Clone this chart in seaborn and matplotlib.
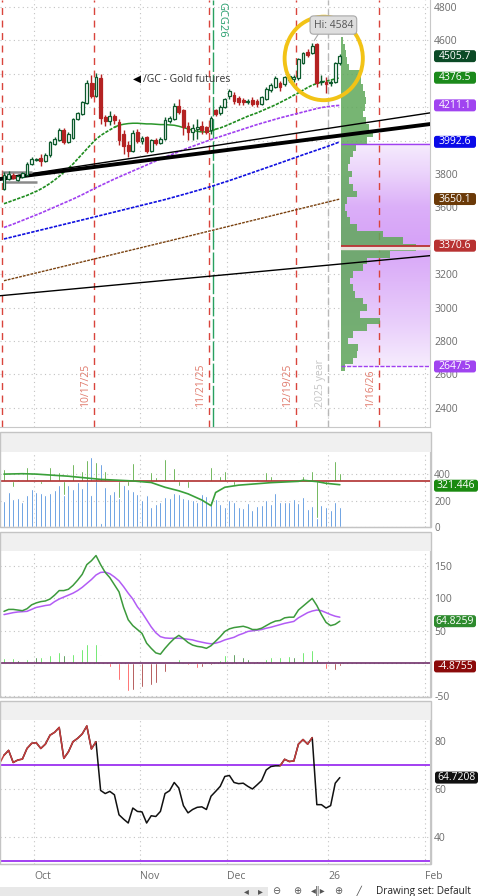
import numpy as np
import seaborn as sns
import matplotlib.pyplot as plt
from matplotlib.patches import Rectangle, Ellipse, FancyBboxPatch
from matplotlib.transforms import IdentityTransform

sns.set_style("white")
plt.rcParams['font.family'] = ['Open Sans', 'DejaVu Sans']

# ---------------- data (daily bars 9/22/25 .. 1/6/26) ----------------
opens = [3712, 3772, 3796, 3766, 3782, 3792, 3862, 3886, 3896, 3878,
         3912, 3982, 4006, 4066, 3992, 4018, 4132, 4162, 4226, 4346,
         4268, 4372, 4142, 4118, 4146, 4112, 4038, 3972, 3938, 4052,
         3998, 4022, 3938, 4002, 3986, 4012, 4118, 4132, 4206, 4182,
         4086, 4052, 4068, 4086, 4082, 4062, 4182, 4166, 4200, 4270,
         4272, 4256, 4246, 4232, 4246, 4240, 4222, 4252, 4302, 4322,
         4342, 4336, 4362, 4366, 4372, 4466, 4528, 4522, 4578, 4348,
         4352, 4345, 4352, 4462]
highs = [3812, 3818, 3806, 3796, 3814, 3870, 3900, 3898, 3922, 3924,
         3998, 4024, 4074, 4076, 4052, 4138, 4174, 4240, 4362, 4392,
         4402, 4398, 4156, 4178, 4160, 4128, 4062, 3998, 4062, 4068,
         4030, 4030, 4012, 4016, 4024, 4140, 4150, 4226, 4252, 4190,
         4112, 4102, 4132, 4116, 4090, 4146, 4190, 4212, 4258, 4312,
         4290, 4268, 4258, 4252, 4262, 4252, 4270, 4322, 4346, 4388,
         4356, 4386, 4398, 4392, 4492, 4532, 4546, 4584, 4582, 4392,
         4382, 4362, 4470, 4516]
lows = [3702, 3762, 3770, 3758, 3776, 3786, 3852, 3878, 3846, 3870,
        3904, 3976, 3998, 3982, 3984, 4010, 4124, 4154, 4218, 4258,
        4262, 4102, 4090, 4092, 4100, 3972, 3922, 3902, 3932, 3986,
        3980, 3924, 3930, 3972, 3978, 4004, 4106, 4122, 4160, 4032,
        4002, 4002, 4012, 4042, 4040, 4042, 4150, 4156, 4196, 4252,
        4222, 4216, 4212, 4220, 4208, 4200, 4214, 4244, 4292, 4316,
        4300, 4326, 4350, 4352, 4362, 4458, 4502, 4516, 4322, 4334,
        4286, 4330, 4342, 4452]
closes = [3792, 3802, 3778, 3786, 3806, 3862, 3888, 3890, 3878, 3916,
          3992, 4012, 4062, 3992, 4038, 4132, 4166, 4232, 4346, 4268,
          4378, 4138, 4118, 4146, 4122, 4002, 3966, 3938, 4046, 3998,
          4018, 3938, 4002, 3986, 4012, 4126, 4138, 4206, 4172, 4082,
          4052, 4078, 4080, 4062, 4052, 4138, 4162, 4202, 4250, 4296,
          4236, 4232, 4232, 4240, 4222, 4222, 4262, 4312, 4332, 4372,
          4322, 4378, 4386, 4378, 4486, 4522, 4512, 4566, 4346, 4352,
          4340, 4352, 4462, 4506]

ma_green = [3622, 3632, 3642, 3652, 3662, 3672, 3684, 3696, 3710, 3726,
            3744, 3764, 3786, 3810, 3834, 3860, 3890, 3920, 3950, 3980,
            4008, 4030, 4048, 4064, 4080, 4092, 4098, 4102, 4104, 4104,
            4102, 4100, 4100, 4098, 4096, 4096, 4094, 4092, 4086, 4078,
            4070, 4062, 4056, 4052, 4052, 4058, 4068, 4076, 4086, 4098,
            4110, 4122, 4134, 4146, 4156, 4166, 4178, 4190, 4202, 4214,
            4228, 4242, 4256, 4272, 4286, 4302, 4318, 4332, 4342, 4350,
            4356, 4362, 4370, 4376.5]
ma_purple = [3480, 3490, 3500, 3511, 3522, 3533, 3544, 3555, 3566, 3578,
             3590, 3602, 3614, 3626, 3638, 3650, 3663, 3676, 3690, 3704,
             3718, 3731, 3744, 3757, 3770, 3782, 3794, 3806, 3818, 3830,
             3842, 3854, 3866, 3878, 3890, 3901, 3912, 3923, 3934, 3945,
             3956, 3966, 3976, 3986, 3996, 4006, 4015, 4024, 4033, 4042,
             4051, 4060, 4069, 4078, 4087, 4096, 4104, 4112, 4120, 4128,
             4136, 4143, 4150, 4157, 4164, 4171, 4178, 4185, 4192, 4198,
             4202, 4206, 4209, 4211.1]
ma_blue_idx = [0, 10, 20, 30, 35, 40, 45, 50, 55, 60, 65, 70, 73]
ma_blue_val = [3411, 3478, 3545, 3613, 3647, 3685, 3725, 3770, 3818, 3866, 3915, 3962, 3992.6]
ma_brown_idx = [0, 36, 73]
ma_brown_val = [3161, 3400, 3650.1]

# hand-drawn trendlines (price at left / right edge of chart)
trend_thick = [3770, 4099]
trend_thin = [3774, 4166]
trend_low = [3071, 3311]

# volume profile (price bins, relative volume)
prof_levels = np.arange(4600, 2600, -40)
prof_vol = [2, 4, 5, 6, 8, 19, 20, 22, 24, 25,
            24, 22, 25, 28, 32, 26, 15, 12, 9, 7,
            11, 8, 12, 16, 6, 4, 6, 9, 16, 42,
            62, 75, 49, 26, 22, 12, 9, 12, 14, 22,
            26, 19, 39, 26, 12, 7, 17, 16, 12, 4]
va_high, va_low, poc = 3980, 2647.5, 3370.6

volume = [200, 266, 215, 224, 192, 242, 289, 266, 259, 242,
          261, 279, 316, 345, 316, 286, 340, 296, 353, 533,
          390, 476, 303, 254, 271, 328, 328, 286, 271, 254,
          205, 246, 155, 172, 187, 229, 222, 261, 249, 217,
          210, 205, 192, 249, 237, 197, 210, 175, 155, 205,
          192, 155, 143, 180, 131, 160, 168, 205, 175, 261,
          192, 192, 192, 210, 180, 229, 138, 163, 197, 168,
          150, 131, 192, 155]
vol_osc = [94, 5, -42, 20, 15, 111, 32, 5, -22, 32,
           111, 44, 69, -100, 62, 131, 44, 81, 163, -104,
           148, -313, 81, 5, -17, -128, -30, -35, 138, -10,
           0, -104, 69, 32, 44, 168, 32, 100, -35, -116,
           -54, 32, 0, 0, -17, 106, 44, 44, 81, 12,
           -30, 0, 0, -8, -6, 20, 32, 69, 37, 0,
           0, 52, 0, 5, 148, 44, 8, 77, -277, 0,
           -25, 5, 156, 62]
vol_ref = 347
vol_ma_idx = [0, 4, 7, 14, 21, 28, 32, 35, 38, 40, 43, 45, 46, 48, 51, 58, 64, 65, 68, 70, 73]
vol_ma_val = [402, 405, 402, 386, 362, 350, 338, 302, 275, 252, 205, 162, 262, 302, 318, 337, 347, 355, 345, 332, 321.446]

macd = [80, 83, 83, 82, 81, 84, 90, 93, 95, 96,
        99, 105, 112, 112, 114, 120, 128, 137, 152, 158,
        166, 152, 140, 132, 121, 110, 86, 67, 58, 52,
        46, 31, 23, 16, 14, 23, 31, 38, 43, 38,
        32, 28, 26, 25, 23, 27, 34, 41, 49, 53,
        55, 56, 57, 55, 52, 52, 54, 58, 62, 65,
        66, 70, 71, 71, 82, 88, 94, 100, 89, 75,
        63, 58, 60, 64.8259]
macd_avg = [75, 76.5, 78, 79, 79.5, 80, 83, 86, 87.5, 89,
            90, 95, 99, 102, 105, 108, 112, 117, 123, 129,
            136, 140, 140.5, 138, 133, 127, 118, 108, 99, 87,
            78, 67, 56, 47, 41, 39, 38.5, 38.5, 38.5, 38,
            37, 36, 34, 32.5, 31, 30, 31, 33, 36, 38,
            40, 43.5, 46, 49, 50, 51, 52, 54, 55.5, 57.5,
            59.5, 61.5, 63, 64.5, 70, 74, 78, 80.5, 82, 81,
            78, 75, 72.5, 71]
macd_diff = [8, 6, 8, 5, 4, 7, 10, 9, 9, 8,
             12, 14, 17, 13, 11, 15, 18, 22, 30, 27,
             30, 13, -1, -6, -14, -26, -36, -43, -41, -40,
             -36, -34, -33, -30, -25, -14, -6, 2, 7, 1,
             -3, -5, -7, -5, -8, -2, 2, 5, 12, 16,
             15, 13, 10, 6, 4, 3, 4, 7, 9, 10,
             10, 10, 11, 10, 13, 17, 18, 20, 7, -1,
             -9, -13, -10, -4.8755]

rsi = [74, 76, 71, 72, 72.4, 76.8, 78.9, 79.2, 76.8, 78.6,
       82.3, 83.5, 85.5, 72.7, 75.4, 79.6, 81, 82.8, 86.1, 76.6,
       79.6, 59.4, 58.1, 59, 57.6, 49.3, 47.5, 45.9, 52.1, 50.7,
       50.5, 45.9, 48.9, 48.6, 50.7, 58.1, 59.3, 62.7, 60.4, 53.1,
       50.1, 51.5, 52.4, 52.6, 51.5, 57, 59, 61.1, 65.2, 65.6,
       62.7, 62.2, 62.4, 61.1, 60, 61.7, 63.5, 67.9, 69.3, 69.6,
       69.6, 72.3, 71.4, 71.6, 78.6, 80.5, 78.6, 81.3, 53.5, 53.5,
       52.1, 53.1, 62.4, 64.7208]

month_pos = [6.5, 29.5, 48.5, 70.5, 91.5]
month_lbl = ['Oct', 'Nov', 'Dec', '26', 'Feb']
expiry_pos = [-0.5, 19.5, 44.5, 63.5, 81.5]
expiry_lbl = ['', '10/17/25', '11/21/25', '12/19/25', '1/16/26']
roll_pos = 45.5
year_pos = 70.5

# ---------------- layout ----------------
W, H = 479, 896
XL, XR = -0.87, 92.6
PROF_LEFT = 73.3
fig = plt.figure(figsize=(W / 100, H / 100), dpi=100)
fig.patch.set_facecolor('white')


def fbox(x0, y0, x1, y1):
    return [x0 / W, 1 - y1 / H, (x1 - x0) / W, (y1 - y0) / H]


def prect(x0, y0, x1, y1, **kw):
    fig.add_artist(Rectangle((x0, H - y1), x1 - x0, y1 - y0,
                             transform=IdentityTransform(), **kw))


ax_p = fig.add_axes(fbox(0, 0, 430, 427))
ax_v = fig.add_axes(fbox(0, 452, 430, 527))
ax_m = fig.add_axes(fbox(0, 551, 430, 697))
ax_r = fig.add_axes(fbox(0, 720, 430, 864))

idx = np.arange(len(closes))
grid_col = '#c2c2c2'


def style(ax, yticks, ylim, hidden=()):
    ax.set_xlim(XL, XR)
    ax.set_ylim(*ylim)
    ax.yaxis.tick_right()
    ax.set_yticks(yticks)
    # labels sitting under a value tag are not shown
    ax.set_yticklabels(['' if t in hidden else f'{t:g}' for t in yticks])
    ax.set_xticks(month_pos)
    ax.tick_params(axis='y', length=0, pad=3, labelsize=7.5, labelcolor='#6b6b6b')
    ax.tick_params(axis='x', length=0, labelbottom=False)
    ax.grid(True, ls=(0, (1, 3)), color=grid_col, lw=0.8)
    for s in ['left', 'top']:
        ax.spines[s].set_visible(False)
    for s in ['right', 'bottom']:
        ax.spines[s].set_color('#c8c8c8')
    ax.set_xlabel('')
    ax.set_ylabel('')


# ---------------- price panel ----------------
o, h, l, c = map(np.array, (opens, highs, lows, closes))
up = c >= o
edge = np.where(up, '#0c5a2c', '#b42222')
face = np.where(up, 'white', '#b42222')
body_lo = np.minimum(o, c)
body_h = np.maximum(np.abs(c - o), 6)

# value area gradient + profile
va_p = np.linspace(va_low, va_high, 200)
strength = np.interp(va_p, [2647, 2900, 3200, 3400, 3600, 3800, 3980],
                     [0.08, 0.45, 0.8, 1.0, 0.85, 0.4, 0.08])
light = np.array([0.975, 0.95, 0.995])
deep = np.array([0.84, 0.64, 0.97])
img = light + (deep - light) * strength[:, None]
ax_p.imshow(img[:, None, :], extent=[PROF_LEFT, XR, va_low, va_high], origin='lower',
            aspect='auto', zorder=1)
ax_p.barh(prof_levels, np.array(prof_vol) / 4.6, left=PROF_LEFT, height=40,
          color='#5fa85a', alpha=0.85, lw=0, antialiased=False, zorder=3)
ax_p.fill_between([PROF_LEFT, XR], poc - 20, poc - 2, color='#ece2de', zorder=3.5)
ax_p.hlines(poc, PROF_LEFT, XR, color='#b83232', lw=1.3, zorder=4)
ax_p.hlines(va_high, PROF_LEFT, XR, color='#a040f0', lw=1, zorder=4)
ax_p.hlines(va_low, PROF_LEFT, XR, color='#a040f0', lw=1, ls=(0, (3, 1)), zorder=4)

# event lines
for xp in expiry_pos:
    ax_p.axvline(xp, color='#d9443c', ls=(0, (5, 4)), lw=1, zorder=2)
ax_p.axvline(roll_pos, color='#28a060', ls=(0, (14, 2)), lw=1, zorder=2)
ax_p.axvline(year_pos, color='#b8b8b8', ls=(0, (5, 3)), lw=1, zorder=2)
for xp, lb in zip(expiry_pos, expiry_lbl):
    if lb:
        ax_p.text(xp - 1.8, 2405, lb, rotation=90, ha='center', va='bottom',
                  fontsize=7.5, color='#e07a6c')
ax_p.text(year_pos - 1.6, 2405, '2025 year', rotation=90, ha='center', va='bottom',
          fontsize=7.5, color='#c4c4c4')
ax_p.text(roll_pos + 1.8, 4830, 'GCG26', rotation=270, ha='center', va='top',
          fontsize=8, color='#2aa070')

# moving averages
dash = (0, (2, 0.8))
g = np.array(ma_green)
sns.lineplot(x=idx[:26], y=g[:26], ax=ax_p, color='#1e8c1e', lw=1.2, ls=dash, zorder=3)
sns.lineplot(x=idx[24:47], y=g[24:47], ax=ax_p, color='#2a962a', lw=1.1, zorder=3)
sns.lineplot(x=idx[45:], y=g[45:], ax=ax_p, color='#1e8c1e', lw=1.2, ls=dash, zorder=3)
sns.lineplot(x=idx, y=ma_purple, ax=ax_p, color='#a040f0', lw=1.2, ls=dash, zorder=3)
sns.lineplot(x=ma_blue_idx, y=ma_blue_val, ax=ax_p, color='#1010e0', lw=1.2, ls=dash, zorder=3)
sns.lineplot(x=ma_brown_idx, y=ma_brown_val, ax=ax_p, color='#7a4210', lw=1, ls=dash, zorder=3)

# trendlines
ax_p.plot([XL, XR], trend_low, color='black', lw=1, zorder=3)
ax_p.plot([XL, XR], trend_thin, color='black', lw=1, zorder=3)
ax_p.plot([XL, XR], trend_thick, color='black', lw=2.8, zorder=3)
ax_p.hlines(3812, -0.4, 6, color='#8a8a8a', lw=1.8, zorder=3)
ax_p.hlines(3752, 0.2, 7.2, color='#8a8a8a', lw=1.8, zorder=3)

# candles
ax_p.vlines(idx, l, h, colors=edge, lw=1, zorder=5)
ax_p.bar(idx, body_h, bottom=body_lo, width=0.62, color=face, edgecolor=edge,
         lw=0.9, zorder=6)

ax_p.text(30.2, 4368, '/GC - Gold futures', fontsize=7.5, color='#333333', va='center')
ax_p.text(28.0, 4368, '\u25C0', fontsize=7.5, color='black', va='center',
          family='DejaVu Sans')
ax_p.add_patch(Ellipse((69.5, 4492), 17, 500, fill=False, ec='#f2c316', lw=2.8, zorder=8))
ax_p.plot([68.6, 67.4], [4650, 4598], color='#a8a8a8', lw=0.8, zorder=9)
ax_p.text(71.6, 4692, 'Hi: 4584', ha='center', va='center', fontsize=7.5, color='#555555',
          zorder=10, bbox=dict(boxstyle='round,pad=0.35', fc='#dedede', ec='#a8a8a8', lw=0.8))

style(ax_p, list(range(2400, 4801, 200)), (2285, 4842), hidden=(4400, 4200, 4000, 3400))

# ---------------- volume panel ----------------
ax_v.bar(idx, volume, width=0.42, color='#1a6dd2', zorder=2)
ax_v.bar(idx, vol_osc, bottom=vol_ref, width=0.35, color='#1f8f00', zorder=3)
ax_v.axhline(vol_ref, color='#b03030', lw=1.2, zorder=4)
sns.lineplot(x=vol_ma_idx, y=vol_ma_val, ax=ax_v, color='#3aa03a', lw=1.2, zorder=5)
style(ax_v, [0, 200, 400], (0, 570))
ax_v.tick_params(axis='y', labelsize=7)

# ---------------- MACD panel ----------------
d = np.array(macd_diff)
prev = np.concatenate([[d[0]], d[:-1]])
hcol = np.where(d >= 0, np.where(d >= prev, '#22dd22', '#0a6a0a'),
                np.where(d <= prev, '#ff2020', '#8b0000'))
ax_m.bar(idx, d, width=0.35, color=hcol, zorder=2)
ax_m.axhline(0, color='#70306a', lw=1.2, zorder=3)
sns.lineplot(x=idx, y=macd_avg, ax=ax_m, color='#b25cf5', lw=1.1, zorder=4)
sns.lineplot(x=idx, y=macd, ax=ax_m, color='#3c9a3c', lw=1.1, zorder=5)
style(ax_m, [-50, 0, 50, 100, 150], (-52, 173), hidden=(0,))

# ---------------- RSI panel ----------------
r = np.array(rsi)
ax_r.axhline(70, color='#9b30f0', lw=1.3, zorder=2)
ax_r.axhline(30, color='#9b30f0', lw=1.3, zorder=2)
sns.lineplot(x=idx, y=r, ax=ax_r, color='#111111', lw=1.1, zorder=3)
ax_r.plot([XL, 0], [70.9, r[0]], color='#c43c3c', lw=1.1, zorder=4)
for i in range(1, len(r)):
    if r[i] > 70:
        ax_r.plot(idx[i - 1:i + 1], r[i - 1:i + 1], color='#c43c3c', lw=1.1, zorder=4)
style(ax_r, [40, 60, 80], (28.9, 88.6))
ax_r.tick_params(axis='x', labelbottom=True, pad=5, labelsize=7.5, labelcolor='#6b6b6b')
ax_r.set_xticklabels(month_lbl, ha='left')

# ---------------- chrome: headers, tags, toolbar ----------------
for top, hb, bottom in [(432, 452, 527), (532, 551, 697), (701, 720, 864)]:
    prect(0, top, 431, hb, facecolor='#f0f0f0', edgecolor='none')
    prect(0, top, 431, bottom, facecolor='none', edgecolor='#c4c4c4', lw=1)


def tag(ax, value, label, color, x0=434, w=42, hgt=12, dy=0):
    yd = ax.transData.transform((0, value))[1] - dy
    fig.add_artist(FancyBboxPatch((x0, yd - hgt / 2), w, hgt,
                                  boxstyle='round,pad=0,rounding_size=2.5',
                                  transform=IdentityTransform(), facecolor=color,
                                  edgecolor='none'))
    fig.text((x0 + w / 2) / W, yd / H, label, color='white', fontsize=7.5,
             ha='center', va='center')


for v, lb, col in [(4505.7, '4505.7', '#0b4a26'), (4376.5, '4376.5', '#1b8a1b'),
                   (4211.1, '4211.1', '#a044f0'), (3992.6, '3992.6', '#0a0ae8'),
                   (3650.1, '3650.1', '#6b3a08'), (3370.6, '3370.6', '#b83232'),
                   (2647.5, '2647.5', '#a044f0')]:
    tag(ax_p, v, lb, col)
tag(ax_v, 321.446, '321.446', '#1a8a10', x0=434, w=44, dy=1)
tag(ax_m, 64.8259, '64.8259', '#2e8b2e', x0=434, w=42)
tag(ax_m, -4.8755, '-4.8755', '#8b0a0a', x0=434, w=42)
tag(ax_r, 64.7208, '64.7208', '#111111', x0=435, w=43)

prect(0, 887, 268, 896, facecolor='#e8e8e8', edgecolor='none')
for xp, sym in [(246, '\u25C2'), (260, '\u25B8'), (276, '\u2296'), (297, '\u2295'),
                (318, '\u25C2\u2016\u25B8'), (338, '\u2295'), (358, '\u2571')]:
    fig.text(xp / W, 1 - 891 / H, sym, fontsize=7, color='#555555', ha='center',
             va='center', family='DejaVu Sans')
fig.text(376 / W, 1 - 891 / H, 'Drawing set: Default', fontsize=7.2, color='#222222',
         va='center')

fig.savefig('out.png', dpi=100)
